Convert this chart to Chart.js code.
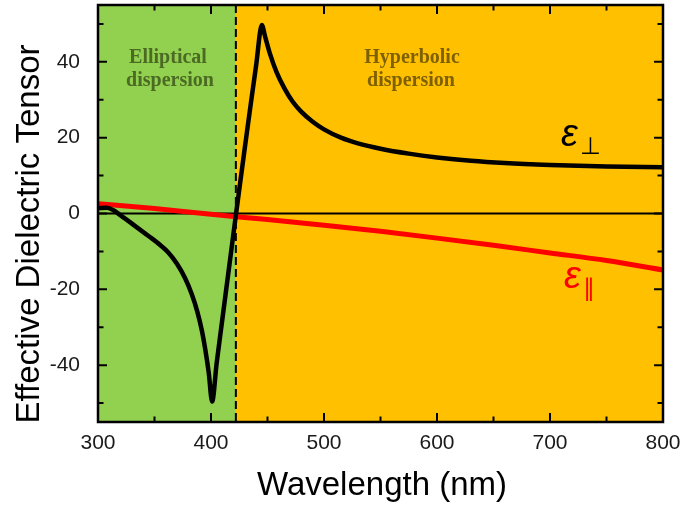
<!DOCTYPE html>
<html>
<head>
<meta charset="utf-8">
<script src="https://cdn.jsdelivr.net/npm/chart.js@4"></script>
<style>
  html, body { margin: 0; padding: 0; background: #fff; }
  canvas { display: block; }
</style>
</head>
<body>
<canvas id="chart" width="684" height="509"></canvas>
<script>
// eps_perp (black)
const perpWl  = [300, 308, 314, 320, 327, 335, 345, 355, 362, 370, 377, 383, 388, 392, 395, 398, 401,
                 405, 410, 415, 420, 425, 430, 435, 440, 445,
                 448, 452, 458, 465, 472, 480, 490, 500, 515, 530, 550, 575, 600, 630, 660, 700, 750, 800];
const perpEps = [1.4, 1.5, 0.8, -0.5, -2.0, -3.8, -6.0, -8.3, -10.2, -13.3, -17.0, -21.3, -26.0, -31.0, -36.0, -42.0, -49.6,
                 -39.5, -28.0, -16.5, -5.0, 6.3, 17.5, 28.5, 39.2, 49.7,
                 46.5, 42.3, 37.3, 33.0, 29.6, 26.8, 24.2, 22.2, 20.0, 18.5, 17.1, 15.8, 14.8, 13.9, 13.3, 12.8, 12.4, 12.2];

// eps_parallel (red)
const parWl  = [300, 350, 400, 450, 500, 550, 600, 650, 700, 750, 800];
const parEps = [2.6, 1.3, -0.2, -1.6, -3.1, -4.7, -6.5, -8.4, -10.4, -12.4, -14.9];

const xTicks = [300, 400, 500, 600, 700, 800];
const yTicks = [-40, -20, 0, 20, 40];
const boundaryWl = 422;   // elliptical / hyperbolic transition

const SANS = '"Liberation Sans", Arial, sans-serif';
const SERIF = '"Liberation Serif", "Times New Roman", serif';

const toPts = (xs, ys) => xs.map((x, i) => ({ x, y: ys[i] }));

const figPlugin = {
    id: 'fig',
    beforeDatasetsDraw(chart) {
        const { ctx, chartArea: a, scales: { x, y } } = chart;
        const xb = x.getPixelForValue(boundaryWl);
        ctx.save();
        ctx.fillStyle = '#92D050';
        ctx.fillRect(a.left, a.top, xb - a.left, a.bottom - a.top);
        ctx.fillStyle = '#FFC000';
        ctx.fillRect(xb, a.top, a.right - xb, a.bottom - a.top);

        // region labels
        ctx.font = 'bold 20px ' + SERIF;
        ctx.textAlign = 'center';
        ctx.textBaseline = 'alphabetic';
        ctx.fillStyle = '#4b6a23';
        ctx.fillText('Elliptical', 168, 63);
        ctx.fillText('dispersion', 170, 86);
        ctx.fillStyle = '#7f6000';
        ctx.fillText('Hyperbolic', 412, 63);
        ctx.fillText('dispersion', 411, 86);

        // dashed boundary
        ctx.strokeStyle = '#000';
        ctx.lineWidth = 2;
        ctx.setLineDash([8, 4]);
        ctx.beginPath();
        ctx.moveTo(xb, a.top);
        ctx.lineTo(xb, a.bottom);
        ctx.stroke();
        ctx.setLineDash([]);

        // zero line
        const y0 = y.getPixelForValue(0);
        ctx.lineWidth = 1.8;
        ctx.beginPath();
        ctx.moveTo(a.left, y0);
        ctx.lineTo(a.right, y0);
        ctx.stroke();
        ctx.restore();
    },
    afterDraw(chart) {
        const { ctx, chartArea: a, scales: { x, y } } = chart;
        ctx.save();
        ctx.strokeStyle = '#000';
        ctx.lineWidth = 2;

        // inward ticks on all four sides
        for (let v = 300; v <= 800; v += 50) {
            const px = x.getPixelForValue(v);
            const len = v % 100 === 0 ? 9 : 5.5;
            ctx.beginPath();
            ctx.moveTo(px, a.bottom); ctx.lineTo(px, a.bottom - len);
            ctx.moveTo(px, a.top); ctx.lineTo(px, a.top + len);
            ctx.stroke();
        }
        for (let v = -50; v <= 50; v += 10) {
            const py = y.getPixelForValue(v);
            const len = v % 20 === 0 ? 9 : 5.5;
            ctx.beginPath();
            ctx.moveTo(a.left, py); ctx.lineTo(a.left + len, py);
            ctx.moveTo(a.right, py); ctx.lineTo(a.right - len, py);
            ctx.stroke();
        }

        // frame
        ctx.lineWidth = 2.5;
        ctx.strokeRect(a.left, a.top, a.right - a.left, a.bottom - a.top);

        // curve labels
        ctx.textAlign = 'left';
        ctx.textBaseline = 'alphabetic';
        ctx.fillStyle = '#000';
        ctx.font = 'italic 38px ' + SANS;
        ctx.fillText('ε', 561, 146);
        ctx.font = '24px "DejaVu Sans"';
        ctx.fillText('⊥', 580, 154);

        ctx.fillStyle = '#ff0000';
        ctx.font = 'italic 38px ' + SANS;
        ctx.fillText('ε', 564, 288);
        ctx.font = '24px "DejaVu Sans"';
        ctx.fillText('∥', 583, 296);

        // axis titles
        ctx.fillStyle = '#000';
        ctx.font = '33px ' + SANS;
        ctx.textAlign = 'center';
        ctx.fillText('Wavelength (nm)', 382, 495);
        ctx.translate(39, 234);
        ctx.rotate(-Math.PI / 2);
        ctx.fillText('Effective Dielectric Tensor', 0, 0);
        ctx.restore();
    }
};

new Chart(document.getElementById('chart'), {
    type: 'line',
    data: {
        datasets: [
            {
                label: 'eps_perp',
                data: toPts(perpWl, perpEps),
                borderColor: '#000',
                borderWidth: 4.5,
                pointRadius: 0,
                cubicInterpolationMode: 'monotone',
                order: 1
            },
            {
                label: 'eps_par',
                data: toPts(parWl, parEps),
                borderColor: '#ff0000',
                borderWidth: 5,
                pointRadius: 0,
                cubicInterpolationMode: 'monotone',
                order: 2
            }
        ]
    },
    options: {
        responsive: false,
        animation: false,
        layout: { padding: { top: 5, right: 21, bottom: 0, left: 0 } },
        plugins: {
            legend: { display: false },
            tooltip: { enabled: false }
        },
        scales: {
            x: {
                type: 'linear',
                min: 300,
                max: 800,
                afterFit: s => { s.height = 87; s.paddingLeft = 0; s.paddingRight = 0; },
                afterBuildTicks: s => { s.ticks = xTicks.map(value => ({ value })); },
                grid: { display: false },
                border: { display: false },
                ticks: { color: '#1a1a1a', font: { family: SANS, size: 21 }, padding: 1, maxRotation: 0 }
            },
            y: {
                min: -55,
                max: 55,
                afterFit: s => { s.width = 98; s.paddingTop = 0; s.paddingBottom = 0; },
                afterBuildTicks: s => { s.ticks = yTicks.map(value => ({ value })); },
                grid: { display: false },
                border: { display: false },
                ticks: { color: '#1a1a1a', font: { family: SANS, size: 21 }, padding: 10 }
            }
        }
    },
    plugins: [figPlugin]
});
</script>
</body>
</html>
